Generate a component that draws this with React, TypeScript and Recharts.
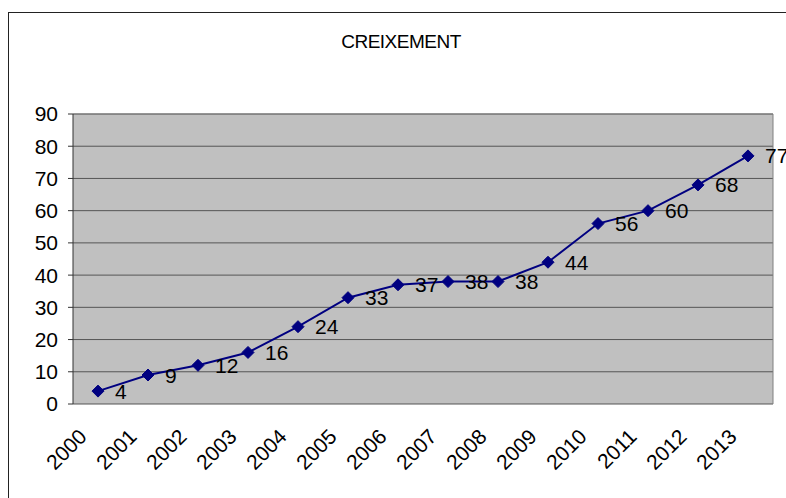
import React from "react";
import {
  CartesianGrid, LabelList, Line, LineChart, ReferenceLine, XAxis, YAxis,
} from "recharts";

const years = ["2000", "2001", "2002", "2003", "2004", "2005", "2006", "2007", "2008", "2009", "2010", "2011", "2012", "2013"];
const growth = [4, 9, 12, 16, 24, 33, 37, 38, 38, 44, 56, 60, 68, 77];
const yTicks = [0, 10, 20, 30, 40, 50, 60, 70, 80, 90];

const FONT = "'Liberation Sans', Arial, sans-serif";

// category slot i occupies [i, i+1] on a numeric axis, point in the middle
const data = years.map((year, i) => ({ slot: i + 0.5, year, value: growth[i] }));
const slotTicks = data.map((d) => d.slot);
const boundaryTicks = years.map((_, i) => i).concat(years.length);

function YearTick({ x, y, payload }: any) {
  const label = years[Math.floor(payload.value)];
  const ax = x - 10;
  const ay = y + 26;
  return (
    <text x={ax} y={ay} transform={`rotate(-45, ${ax}, ${ay})`} textAnchor="end"
      fontFamily={FONT} fontSize={21} fill="#000">
      {label}
    </text>
  );
}

function ValueLabel({ x, y, value }: any) {
  return (
    <text x={x + 17} y={y} dominantBaseline="central" fontFamily={FONT} fontSize={21} fill="#000">
      {value}
    </text>
  );
}

function Diamond({ cx, cy }: any) {
  if (cx == null || cy == null) return null;
  const r = 6;
  return <path d={`M${cx},${cy - r}L${cx + r},${cy}L${cx},${cy + r}L${cx - r},${cy}Z`} fill="#000080" stroke="#000080" />;
}

export default function App() {
  return (
    <div style={{ position: "absolute", left: 0, top: 0, width: 786, height: 498, overflow: "hidden", background: "#fff" }}>
      <div style={{
        position: "absolute", left: 8, top: 12, width: 800, height: 520,
        border: "1px solid #222", boxSizing: "border-box",
      }} />
      <div style={{
        position: "absolute", left: 0, width: 802, top: 31, textAlign: "center",
        fontFamily: FONT, fontSize: 19, letterSpacing: -0.5, color: "#000",
      }}>
        CREIXEMENT
      </div>
      <LineChart width={786} height={498} data={data}
        margin={{ top: 114, right: 13, bottom: 0, left: 0 }}
        style={{ position: "absolute", left: 0, top: 0, overflow: "visible" }}>
        <CartesianGrid vertical={false} fill="#C0C0C0" stroke="#555" horizontalValues={yTicks} />
        <XAxis xAxisId="lines" type="number" dataKey="slot" domain={[0, years.length]}
          ticks={boundaryTicks} tick={false} height={0} tickSize={5} interval={0}
          axisLine={{ stroke: "#333" }} tickLine={{ stroke: "#333" }} />
        <XAxis xAxisId="labels" type="number" dataKey="slot" domain={[0, years.length]}
          ticks={slotTicks} tick={<YearTick />} tickLine={false} axisLine={false} height={94} interval={0} />
        <YAxis domain={[0, 90]} ticks={yTicks} width={73} tickSize={5} tickMargin={10} interval={0}
          axisLine={{ stroke: "#333" }} tickLine={{ stroke: "#333" }}
          tick={{ fill: "#000", fontSize: 21, fontFamily: FONT }} />
        <ReferenceLine xAxisId="lines" x={years.length} stroke="#808080" />
        <ReferenceLine xAxisId="lines" y={90} stroke="#808080" />
        <Line xAxisId="lines" type="linear" dataKey="value" stroke="#000080" strokeWidth={2}
          dot={<Diamond />} activeDot={false} isAnimationActive={false}>
          <LabelList dataKey="value" content={<ValueLabel />} />
        </Line>
      </LineChart>
    </div>
  );
}
